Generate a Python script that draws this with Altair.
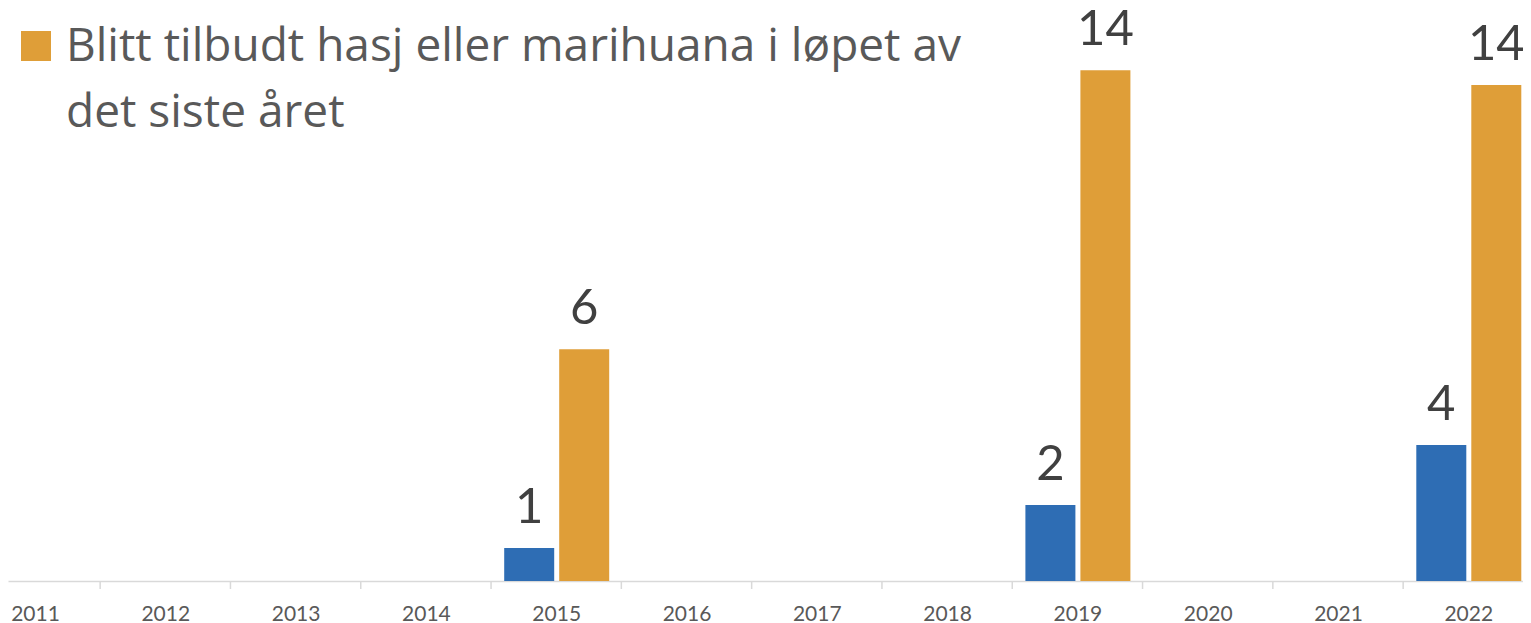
import altair as alt
import pandas as pd

# ---- data ----
years = list(range(2011, 2023))
data_years = [2015, 2019, 2022]
brukt = [0.92, 2.11, 3.78]
tilbudt = [6.44, 14.19, 13.78]
series_names = [
    "Brukt hasj eller marihuana i løpet av det siste året",
    "Blitt tilbudt hasj eller marihuana i løpet av det siste året",
]
colors = ["#2e6db4", "#df9e38"]
legend_text = "Blitt tilbudt hasj eller marihuana i løpet av\ndet siste året"

rows = []
for yr, b, t in zip(data_years, brukt, tilbudt):
    rows.append({"year": yr, "series": series_names[0], "value": b})
    rows.append({"year": yr, "series": series_names[1], "value": t})
df = pd.DataFrame(rows)

boundaries = pd.DataFrame({"pos": [y + 0.5 for y in years[:-1]]})
legend_df = pd.DataFrame({"label": [legend_text]})

# ---- layout (styling constants) ----
W, H = 1515, 573
PX_PER_YEAR = 130.3
x0 = 2011 - 27 / PX_PER_YEAR
x1 = x0 + W / PX_PER_YEAR
PX_PER_UNIT = 36
y1 = H / PX_PER_UNIT
FONT = "Lato"
LEGEND_FONT = "Open Sans"
BAR_W = 50 / PX_PER_YEAR
offsets = {series_names[0]: -27 / PX_PER_YEAR, series_names[1]: 28 / PX_PER_YEAR}

xscale = alt.Scale(domain=[x0, x1], nice=False, zero=False)
yscale = alt.Scale(domain=[0, y1], nice=False, zero=True)
cscale = alt.Scale(domain=series_names, range=colors)

x_axis = alt.Axis(
    values=years, format="d", title=None, ticks=False, grid=False,
    labelFont=FONT, labelFontSize=21, labelColor="#595959",
    labelPadding=39, labelBaseline="alphabetic", labelFlush=False,
    labelOverlap=False, domainColor="#d9d9d9", domainWidth=1.5,
)

base = alt.Chart(df).transform_calculate(
    off=f"datum.series === '{series_names[0]}' ? {offsets[series_names[0]]} : {offsets[series_names[1]]}"
).transform_calculate(
    xc="datum.year + datum.off",
    xs=f"datum.year + datum.off - {BAR_W / 2}",
    xe=f"datum.year + datum.off + {BAR_W / 2}",
)

bars = base.mark_rect(clip=True).encode(
    x=alt.X("xs:Q", scale=xscale, axis=x_axis),
    x2="xe:Q",
    y=alt.Y("value:Q", scale=yscale, axis=None),
    y2=alt.datum(0),
    color=alt.Color("series:N", scale=cscale, legend=None),
)

labels = base.mark_text(
    dy=-25, baseline="alphabetic", align="center",
    font=FONT, fontSize=49, color="#404040",
).encode(
    x=alt.X("xc:Q", scale=xscale),
    y=alt.Y("value:Q", scale=yscale),
    text=alt.Text("value:Q", format=".0f"),
)

ticks = alt.Chart(boundaries).mark_rule(color="#d9d9d9", strokeWidth=1.5).encode(
    x=alt.X("pos:Q", scale=xscale),
    y=alt.value(H),
    y2=alt.value(H + 8),
)

legend_sq = alt.Chart(legend_df).mark_square(size=900, color=colors[1], opacity=1).encode(
    x=alt.value(28), y=alt.value(38), detail="label:N"
)
legend_txt = alt.Chart(legend_df).mark_text(
    align="left", baseline="alphabetic", font=LEGEND_FONT, fontSize=46,
    color="#595959", lineBreak="\n", lineHeight=66,
).encode(x=alt.value(58), y=alt.value(53), text="label:N")

chart = alt.layer(bars, labels, ticks, legend_sq, legend_txt).properties(
    width=W, height=H,
    autosize=alt.AutoSizeParams(type="none"),
    padding={"left": 0, "top": 0, "right": 0, "bottom": 42},
).configure_view(stroke=None)

chart.save("out.html", embed_options={"renderer": "svg", "actions": False})
